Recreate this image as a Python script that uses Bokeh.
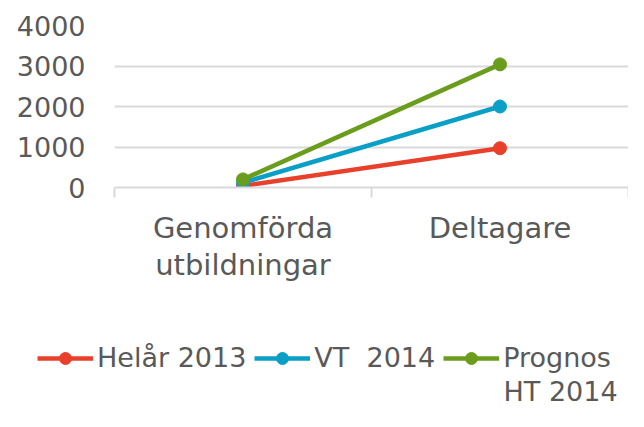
from bokeh.plotting import figure
from bokeh.layouts import column
from bokeh.models import Range1d, FixedTicker, Legend, LegendItem, Label
from bokeh.embed import file_html
from bokeh.resources import INLINE

categories = ["Genomförda\nutbildningar", "Deltagare"]
series_names = ["Helår 2013", "VT  2014", "Prognos HT 2014"]
helar_2013 = [40, 970]
vt_2014 = [120, 2000]
prognos_ht_2014 = [200, 3040]
y_ticks = [0, 1000, 2000, 3000, 4000]

colors = ["#E8402A", "#0A9FC6", "#6B9D1D"]
FONT = "DejaVu Sans"
TXT = "#595959"
GRID = "#D9D9D9"
series = [helar_2013, vt_2014, prognos_ht_2014]

xs = [i + 0.5 for i in range(len(categories))]

# ---------------- main chart ----------------
p = figure(width=628, height=300, output_backend="svg", toolbar_location=None,
           x_range=Range1d(0, len(categories)), y_range=Range1d(0, 4000),
           min_border_left=114, min_border_right=0, min_border_top=25,
           min_border_bottom=113, frame_align=False)
p.outline_line_color = None
p.background_fill_color = None
p.border_fill_color = "white"

for vals, c in zip(series, colors):
    p.line(xs, vals, line_color=c, line_width=4.5)
    p.scatter(xs, vals, size=13, fill_color=c, line_color=c)

p.yaxis.ticker = FixedTicker(ticks=y_ticks)
p.yaxis.axis_line_color = None
p.yaxis.major_tick_line_color = None
p.yaxis.minor_tick_line_color = None
p.yaxis.major_tick_out = 0
p.yaxis.major_label_standoff = 29
p.yaxis.major_label_text_font = FONT
p.yaxis.major_label_text_font_size = "27px"
p.yaxis.major_label_text_color = TXT

p.xaxis.ticker = FixedTicker(ticks=xs, minor_ticks=list(range(len(categories) + 1)))
p.xaxis.major_label_overrides = {x: c for x, c in zip(xs, categories)}
p.xaxis.axis_line_color = GRID
p.xaxis.axis_line_width = 2
p.xaxis.major_tick_line_color = None
p.xaxis.major_tick_out = 0
p.xaxis.major_tick_in = 0
p.xaxis.minor_tick_line_color = GRID
p.xaxis.minor_tick_line_width = 2
p.xaxis.minor_tick_out = 10
p.xaxis.minor_tick_in = 0
p.xaxis.major_label_standoff = 13
p.xaxis.major_label_text_font = FONT
p.xaxis.major_label_text_font_size = "29px"
p.xaxis.major_label_text_color = TXT
p.xaxis.major_label_text_line_height = 1.1

p.xgrid.grid_line_color = None
p.ygrid.grid_line_color = GRID
p.ygrid.grid_line_width = 2

# ---------------- legend strip ----------------
lg = figure(width=628, height=111, output_backend="svg", toolbar_location=None,
            x_range=Range1d(-10, -9), y_range=Range1d(-10, -9),
            min_border_left=0, min_border_right=0, min_border_top=0,
            min_border_bottom=0, frame_align=False)
lg.axis.visible = False
lg.grid.grid_line_color = None
lg.outline_line_color = None
lg.background_fill_color = None
lg.border_fill_color = "white"

items = []
for name, vals, c in zip(series_names, series, colors):
    first = name.split(" ", 1)[0] if name.startswith("Prognos") else name
    l = lg.line(xs, vals, line_color=c, line_width=4.5)
    s = lg.scatter(xs, vals, size=14, fill_color=c, line_color=c)
    items.append(LegendItem(label=first, renderers=[l, s]))

legend = Legend(items=items, orientation="horizontal", location=(37, 38),
                label_text_font=FONT, label_text_font_size="27px",
                label_text_color=TXT, glyph_width=56, glyph_height=30,
                label_standoff=4, spacing=8, padding=0, margin=0,
                border_line_color=None, background_fill_alpha=0)
lg.add_layout(legend, "center")

second_line = series_names[2].split(" ", 1)[1]
lg.add_layout(Label(x=503, y=20, x_units="screen", y_units="screen",
                    text=second_line, text_font=FONT, text_font_size="27px",
                    text_color=TXT, text_baseline="middle"))

open("out.html", "w").write(file_html(column(p, lg, spacing=0), INLINE))
